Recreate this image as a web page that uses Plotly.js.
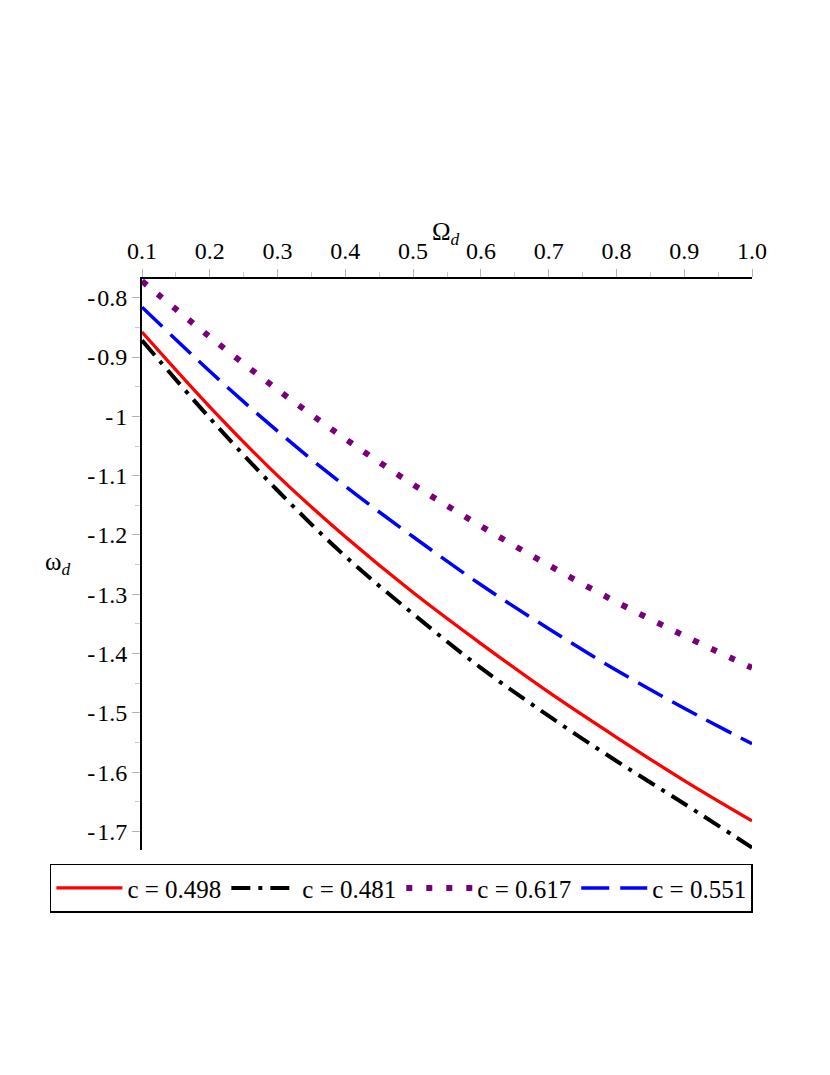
<!DOCTYPE html>
<html>
<head>
<meta charset="utf-8">
<script src="https://cdn.plot.ly/plotly-3.0.1.min.js"></script>
<style>
  html, body { margin: 0; padding: 0; background: #fff; }
  #chart { width: 830px; height: 1075px; }
</style>
</head>
<body>
<div id="chart"></div>
<script>
// Omega_d values (x axis)
var omegaD = [0.1, 0.2, 0.3, 0.4, 0.5, 0.6, 0.7, 0.8, 0.9, 1.0];

// w_d for each c
var wRed    = [-0.858, -0.984, -1.100, -1.203, -1.297, -1.383, -1.465, -1.541, -1.614, -1.682];
var wBlack  = [-0.872, -1.003, -1.125, -1.236, -1.333, -1.424, -1.505, -1.581, -1.653, -1.727];
var wPurple = [-0.772, -0.866, -0.955, -1.038, -1.115, -1.185, -1.251, -1.313, -1.370, -1.424];
var wBlue   = [-0.816, -0.924, -1.025, -1.118, -1.203, -1.284, -1.358, -1.428, -1.492, -1.552];

var seriesNames = ["c = 0.498", "c = 0.481", "c = 0.617", "c = 0.551"];

var xTickVals = [0.1, 0.2, 0.3, 0.4, 0.5, 0.6, 0.7, 0.8, 0.9, 1.0];
var xTickText = ["0.1", "0.2", "0.3", "0.4", "0.5", "0.6", "0.7", "0.8", "0.9", "1.0"];
var yTickVals = [-0.8, -0.9, -1.0, -1.1, -1.2, -1.3, -1.4, -1.5, -1.6, -1.7];
var yTickText = ["-\u200A0.8", "-\u200A0.9", "-\u200A1", "-\u200A1.1", "-\u200A1.2", "-\u200A1.3",
                 "-\u200A1.4", "-\u200A1.5", "-\u200A1.6", "-\u200A1.7"];

var serif = "Liberation Serif, Times New Roman, serif";

var data = [{
    type: "scatter", mode: "lines", name: seriesNames[0],
    x: omegaD, y: wRed,
    line: {color: "#ff0000", width: 3.3, shape: "spline"}
},
{
    type: "scatter", mode: "lines", name: seriesNames[1],
    x: omegaD, y: wBlack,
    line: {color: "#000000", width: 4, shape: "spline", dash: "19px,8px,4px,8px"}
},
{
    type: "scatter", mode: "lines", name: seriesNames[2],
    x: omegaD, y: wPurple,
    line: {color: "#780078", width: 6, shape: "spline", dash: "6px,14px"}
},
{
    type: "scatter", mode: "lines", name: seriesNames[3],
    x: omegaD, y: wBlue,
    line: {color: "#0000ff", width: 3.5, shape: "spline", dash: "28px,11px"}
}];

var layout = {
    width: 830,
    height: 1075,
    margin: {l: 142, r: 78, t: 279, b: 225},
    paper_bgcolor: "#fff",
    plot_bgcolor: "#fff",
    font: {family: serif, size: 24, color: "#000"},
    showlegend: true,
    legend: {
        orientation: "h",
        x: -0.151, xanchor: "left",
        y: -0.024, yanchor: "top",
        bordercolor: "#000", borderwidth: 1.5,
        itemwidth: 66,
        font: {family: serif, size: 25},
        tracegroupgap: 0
    },
    xaxis: {
        side: "top",
        range: [0.1, 1.0],
        showgrid: false, zeroline: false,
        showline: true, linecolor: "#000", linewidth: 2,
        tickmode: "array", tickvals: xTickVals, ticktext: xTickText,
        ticks: "outside", ticklen: 8, tickcolor: "#b4b4b4", tickwidth: 1,
        minor: {dtick: 0.05, ticks: "outside", ticklen: 5, tickcolor: "#c8c8c8"},
        tickfont: {family: serif, size: 24}
    },
    yaxis: {
        range: [-1.731, -0.7685],
        showgrid: false, zeroline: false,
        showline: true, linecolor: "#000", linewidth: 2,
        tickmode: "array", tickvals: yTickVals, ticktext: yTickText,
        ticks: "outside", ticklen: 8, tickcolor: "#b4b4b4", tickwidth: 1,
        minor: {dtick: 0.05, ticks: "outside", ticklen: 5, tickcolor: "#c8c8c8"},
        tickfont: {family: serif, size: 24}
    },
    annotations: [{
        text: "\u03A9<sub><i>d</i></sub>",
        xref: "paper", yref: "paper", x: 0.498, y: 1.11,
        showarrow: false, font: {family: serif, size: 25}
    },
    {
        text: "\u03C9<sub><i>d</i></sub>",
        xref: "paper", yref: "paper", x: -0.162, y: 0.502,
        showarrow: false, font: {family: serif, size: 25}
    }]
};

Plotly.newPlot("chart", data, layout, {displayModeBar: false, staticPlot: true});
</script>
</body>
</html>
